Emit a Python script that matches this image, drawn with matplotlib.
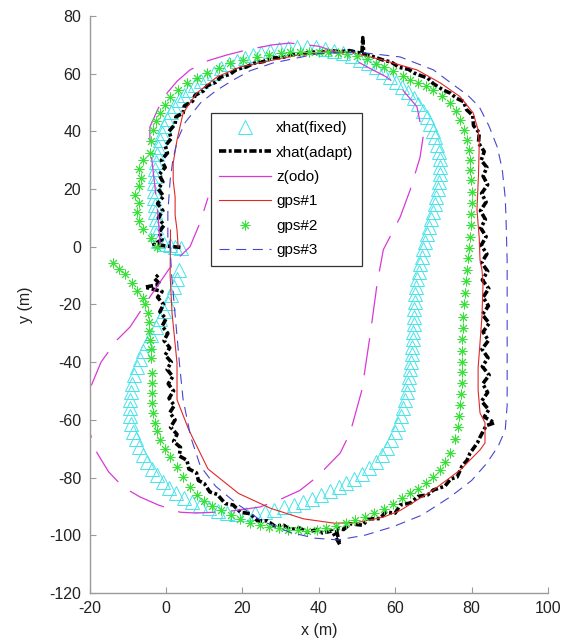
import matplotlib
matplotlib.use("Agg")
import matplotlib.pyplot as plt
from matplotlib.lines import Line2D

plt.rcParams['font.family'] = ['Liberation Sans', 'DejaVu Sans']
plt.rcParams['axes.unicode_minus'] = False

# xhat(fixed) - cyan triangles
fixed_x = [4.0, 2.5, 1.0, -0.5, -2.0, -2.5, -2.5, -2.6, -2.8, -2.9, -3.0, -3.0, -3.0, -2.9, -2.8,
           -2.6, -2.3, -2.0, -1.5, -1.0, -0.4, 0.3, 1.2, 2.2, 3.3, 4.6, 6.0, 7.5, 9.1, 10.8,
           12.6, 14.5, 16.5, 18.5, 20.6, 22.8, 25.0, 27.3, 29.6, 32.0, 34.4, 36.8, 39.2, 41.6, 44.0,
           46.3, 48.6, 50.8, 52.9, 54.9, 56.8, 58.6, 60.3, 61.9, 63.4, 64.8, 66.0, 67.2, 68.2, 69.1,
           69.9, 70.5, 71.0, 71.4, 71.6, 71.7, 71.6, 71.4, 71.1, 70.7, 70.3, 69.8, 69.3, 68.8, 68.3,
           67.8, 67.3, 66.9, 66.5, 66.1, 65.8, 65.5, 65.3, 65.1, 65.0, 64.9, 64.8, 64.7, 64.6, 64.5,
           64.3, 64.1, 63.9, 63.6, 63.3, 63.0, 62.5, 62.0, 61.5, 60.8, 60.0, 59.0, 57.8, 56.5, 55.0,
           53.2, 51.2, 49.2, 47.2, 45.2, 43.0, 40.7, 38.3, 35.9, 33.4, 30.9, 28.4, 25.9, 23.4, 20.9,
           18.4, 15.9, 13.5, 11.2, 9.0, 6.8, 4.7, 2.7, 0.9, -0.8, -2.3, -3.7, -5.0, -6.1, -7.1,
           -7.9, -8.6, -9.1, -9.4, -9.5, -9.4, -9.2, -8.8, -8.3, -7.6, -6.8, -5.9, -4.9, -3.8, -2.7,
           -1.6, -0.5, 0.5, 1.4, 2.2, 2.9, 3.4]
fixed_y = [-0.5, 0.0, 0.5, 1.0, 2.0, 4.5, 7.0, 9.5, 12.0, 14.5, 17.0, 19.5, 22.0, 24.5, 27.0,
           29.5, 32.0, 34.5, 37.0, 39.5, 42.0, 44.3, 46.6, 48.7, 50.7, 52.6, 54.4, 56.1, 57.6, 59.0,
           60.4, 61.8, 63.2, 64.4, 65.5, 66.5, 67.3, 68.0, 68.6, 69.0, 69.2, 69.3, 69.1, 68.7, 67.9,
           67.0, 66.0, 64.9, 63.6, 62.2, 60.6, 59.0, 57.2, 55.4, 53.5, 51.5, 49.4, 47.2, 45.0, 42.7,
           40.3, 37.9, 35.4, 32.9, 30.3, 27.7, 25.1, 22.5, 19.9, 17.3, 14.7, 12.1, 9.5, 6.9, 4.3,
           1.7, -0.9, -3.5, -6.1, -8.7, -11.3, -13.9, -16.5, -19.1, -21.7, -24.3, -26.9, -29.5, -32.1, -34.7,
           -37.3, -39.9, -42.5, -45.1, -47.7, -50.3, -53.0, -55.8, -58.6, -61.4, -64.2, -67.0, -69.7, -72.2, -74.6,
           -76.8, -78.8, -80.5, -82.0, -83.4, -84.8, -86.1, -87.3, -88.4, -89.4, -90.3, -91.1, -91.8, -92.3, -92.6,
           -92.6, -92.2, -91.5, -90.6, -89.6, -88.4, -87.0, -85.4, -83.5, -81.4, -79.2, -76.9, -74.5, -72.0, -69.4,
           -66.8, -64.1, -61.4, -58.6, -55.8, -53.0, -50.2, -47.4, -44.6, -41.8, -39.0, -36.2, -33.4, -30.6, -27.8,
           -25.0, -22.2, -19.4, -16.6, -13.8, -11.0, -8.2]

# xhat(adapt) - black dash-dot
adapt_x = [3.8, 0.5, -3.2, -1.0, -1.8, -0.5, -2.0, -0.8, -2.2, -0.6, -2.0, -0.8, -1.8, -0.2, -1.2,
           0.4, -0.2, 1.4, 0.8, 2.4, 2.6, 4.5, 4.8, 7.0, 7.6, 9.8, 10.8, 13.0, 14.3, 16.8,
           18.5, 21.0, 23.0, 25.5, 27.8, 30.5, 32.8, 35.4, 38.0, 40.5, 43.0, 45.5, 48.0, 50.3, 51.3,
           51.5, 51.8, 54.0, 56.9, 59.0, 61.0, 63.5, 65.0, 66.5, 68.5, 70.0, 72.6, 74.5, 76.0, 77.9,
           78.7, 80.3, 80.5, 82.0, 81.8, 83.3, 82.5, 84.0, 83.0, 84.2, 82.6, 83.8, 82.3, 83.6, 82.4,
           83.8, 82.5, 84.0, 82.6, 84.2, 82.8, 84.5, 83.0, 84.4, 82.8, 84.6, 83.0, 84.4, 82.7, 84.3,
           82.8, 84.6, 82.9, 84.2, 82.6, 84.5, 83.3, 86.0, 83.8, 82.2, 81.5, 79.6, 78.8, 77.5, 76.2,
           74.5, 73.0, 70.0, 68.5, 66.0, 64.0, 61.3, 60.0, 57.5, 56.0, 53.0, 51.5, 48.2, 46.5, 44.5,
           45.5, 43.5, 41.0, 39.5, 37.0, 35.0, 32.5, 30.8, 28.5, 26.5, 24.0, 22.0, 19.5, 17.6, 15.5,
           13.4, 11.5, 10.0, 8.5, 8.0, 6.0, 5.5, 3.5, 3.8, 2.0, 2.9, 1.2, 2.4, 1.0, 2.2,
           0.8, 2.0, 0.6, 1.8, 0.3, 1.4, -0.2, 1.0, -0.5, 0.5, -1.0, 0.0, -1.6, -0.6, -2.2,
           -1.0, -5.5, -1.5, -3.0, -1.8]
adapt_y = [-0.2, 0.2, 0.8, 2.5, 5.0, 7.5, 10.0, 12.5, 15.0, 17.5, 20.0, 22.5, 25.0, 27.5, 30.0,
           32.5, 35.0, 37.5, 40.0, 42.5, 45.0, 46.4, 48.8, 50.5, 52.5, 54.0, 55.8, 57.0, 58.8, 59.8,
           61.5, 62.3, 63.6, 64.2, 65.4, 65.6, 66.6, 66.7, 67.5, 67.4, 68.0, 67.6, 68.0, 67.3, 67.0,
           72.5, 66.8, 66.0, 64.7, 64.0, 62.2, 61.5, 60.2, 59.4, 58.5, 56.5, 54.3, 53.2, 51.5, 50.3,
           47.5, 45.5, 42.0, 39.5, 36.0, 33.0, 30.0, 27.5, 24.5, 21.5, 18.5, 15.5, 12.5, 9.5, 6.5,
           3.5, 0.5, -2.5, -5.5, -8.5, -11.5, -14.5, -17.5, -20.5, -23.5, -26.5, -29.5, -32.5, -35.5, -38.5,
           -41.5, -44.5, -47.5, -50.5, -53.5, -56.5, -59.0, -61.0, -62.0, -66.0, -68.0, -71.5, -74.0, -76.0, -79.8,
           -80.5, -83.0, -84.3, -86.0, -86.5, -88.8, -89.5, -92.3, -92.0, -94.2, -94.3, -96.5, -96.0, -98.0, -97.5,
           -103.2, -98.5, -99.2, -98.0, -98.9, -97.5, -98.0, -96.5, -96.8, -95.0, -95.0, -92.5, -92.0, -89.5, -89.0,
           -85.8, -85.0, -82.0, -81.0, -78.4, -77.0, -74.0, -72.5, -69.5, -67.5, -65.0, -62.5, -60.0, -57.5, -55.0,
           -52.5, -50.0, -47.5, -45.0, -42.5, -40.0, -37.5, -35.0, -32.5, -30.0, -27.5, -25.0, -22.5, -20.0, -17.5,
           -15.5, -14.0, -13.0, -11.0, -9.5]

# z(odo) - magenta
odo_x = [-1.5, -2.0, -2.8, -3.5, -4.2, -4.2, -2.0, 0.3, 3.0, 6.3, 11.0, 16.0, 22.0, 28.0, 32.5,
         40.0, 47.0, 52.7, 57.5, 61.3, 65.7, 67.3, 66.5, 64.0, 61.3, 56.9, 55.3, 53.4, 51.3, 48.2,
         45.6, 39.5, 35.0, 30.0, 24.6, 16.0, 8.0, 3.7, -2.0, -6.8, -11.2, -15.0, -18.0, -19.9, -20.2,
         -19.5, -17.0, -12.8, -9.4, -4.0, 1.9, 6.3, 9.0, 11.0]
odo_y = [0.0, 10.0, 20.0, 28.0, 36.0, 41.5, 48.0, 53.3, 57.5, 61.3, 64.5, 66.5, 68.5, 70.0, 70.6,
         69.5, 66.5, 62.3, 59.0, 55.4, 48.5, 38.0, 31.0, 20.0, 10.3, -1.0, -12.5, -31.0, -49.6, -64.5,
         -71.5, -79.8, -84.5, -87.5, -90.2, -91.8, -92.3, -92.0, -89.5, -86.7, -83.3, -78.0, -71.5, -64.5, -57.0,
         -48.0, -40.0, -32.3, -27.8, -17.0, -5.6, 0.0, 8.6, 17.0]

# gps#1 - red
gps1_x = [3.2, 2.9, 2.4, 2.4, 1.9, 1.9, 2.9, 4.5, 8.1, 13.4, 19.4, 28.0, 34.0, 41.2, 48.2,
          56.9, 65.7, 71.8, 77.0, 80.4, 81.7, 82.0, 81.8, 81.4, 82.0, 82.2, 82.7, 83.0, 82.7, 82.2,
          81.7, 81.7, 82.2, 83.5, 83.5, 82.2, 77.0, 70.0, 61.3, 56.9, 50.0, 44.0, 36.0, 27.5, 19.0,
          11.0, 6.0, 2.9, 2.9, 1.6, 1.1, 1.2]
gps1_y = [-0.1, 5.8, 11.0, 17.3, 23.0, 29.0, 37.0, 46.4, 53.3, 58.9, 62.3, 64.7, 66.3, 67.6, 67.4,
          64.7, 61.3, 56.8, 52.0, 46.4, 40.5, 36.0, 25.0, 12.8, 3.0, -4.6, -8.0, -12.5, -24.3, -33.3,
          -42.0, -49.6, -57.6, -61.0, -68.0, -70.4, -77.4, -84.3, -91.4, -93.7, -95.6, -95.8, -94.3, -90.7, -85.5,
          -77.0, -63.5, -53.0, -40.3, -23.0, -10.0, 5.8]

# gps#2 - green stars
gps2_x = [-2.3, -4.0, -6.0, -7.0, -7.5, -7.0, -8.0, -7.0, -6.5, -7.0, -6.0, -4.2, -3.8, -3.4, -2.6,
          -1.5, -0.3, 1.1, 3.2, 5.5, 8.0, 10.8, 13.8, 16.8, 20.2, 23.8, 27.0, 30.0, 32.5, 35.0,
          37.5, 40.0, 42.5, 45.0, 47.5, 50.0, 52.5, 55.0, 57.0, 59.5, 62.0, 64.0, 66.0, 68.0, 70.0,
          72.3, 74.4, 75.8, 77.0, 78.0, 78.8, 79.2, 79.5, 79.6, 79.8, 80.0, 80.0, 79.9, 79.8, 79.6,
          79.4, 79.1, 78.8, 78.5, 78.2, 78.0, 77.8, 77.7, 77.6, 77.6, 77.5, 77.5, 77.5, 77.3, 77.0,
          76.8, 76.5, 75.6, 74.4, 73.0, 71.6, 70.0, 68.0, 66.0, 64.0, 61.8, 59.5, 57.0, 54.5, 52.0,
          49.5, 47.0, 44.5, 42.0, 39.5, 37.0, 34.5, 32.0, 29.5, 27.0, 24.5, 22.0, 19.5, 17.0, 14.5,
          12.0, 10.0, 8.0, 6.2, 4.5, 2.8, 1.1, -0.3, -1.5, -2.3, -2.9, -3.3, -3.6, -3.6, -3.6,
          -3.6, -3.9, -4.0, -4.2, -4.4, -4.5, -4.7, -5.5, -6.0, -7.6, -8.8, -10.7, -12.2, -13.8]
gps2_y = [0.0, 3.0, 6.0, 9.0, 12.0, 15.0, 18.0, 21.0, 24.0, 27.0, 30.0, 32.5, 36.5, 40.5, 43.5,
          46.4, 49.3, 52.0, 54.5, 56.8, 58.6, 60.2, 62.0, 63.7, 64.8, 65.8, 66.6, 67.2, 67.5, 67.6,
          67.6, 67.6, 67.5, 67.3, 66.8, 66.0, 65.0, 63.5, 62.2, 60.8, 59.2, 57.8, 56.8, 55.6, 54.3,
          52.2, 49.8, 47.0, 44.0, 40.5, 37.0, 33.5, 30.0, 26.6, 23.0, 19.0, 15.2, 11.5, 7.5, 3.4,
          -0.5, -4.0, -8.0, -12.0, -16.0, -20.0, -24.3, -28.0, -32.0, -36.0, -40.0, -43.5, -47.2, -51.0, -55.0,
          -58.8, -62.5, -66.5, -71.5, -74.5, -77.2, -79.8, -82.0, -83.8, -85.3, -87.2, -89.0, -90.8, -92.2, -93.5,
          -94.6, -95.6, -96.7, -97.6, -98.2, -98.4, -98.3, -98.0, -97.6, -97.2, -96.6, -95.6, -94.4, -93.0, -91.4,
          -89.7, -88.0, -86.0, -83.2, -79.8, -76.3, -72.9, -70.0, -67.0, -64.0, -61.1, -57.6, -54.2, -50.7, -47.2,
          -43.7, -38.5, -35.3, -32.3, -29.2, -26.1, -23.0, -20.0, -17.7, -15.3, -12.5, -9.5, -7.6, -5.6]

# gps#3 - blue dashed
gps3_x = [1.0, 1.5, 2.5, 3.5, 4.5, 6.5, 9.0, 13.0, 18.5, 25.0, 32.5, 39.0, 45.0, 52.0, 59.5,
          67.0, 74.4, 80.0, 84.0, 87.0, 88.8, 89.3, 89.3, 89.3, 89.3, 89.0, 88.8, 88.0, 86.7, 84.5,
          82.0, 79.0, 76.0, 70.0, 61.3, 50.0, 40.0, 28.0, 22.0, 17.6, 13.0, 9.0, 5.0, 3.0, 1.8,
          1.1, 0.5, 0.5]
gps3_y = [2.0, -10.0, -25.0, -40.0, -53.0, -66.0, -76.0, -83.0, -89.0, -95.0, -99.0, -101.0, -101.6, -100.0, -97.0,
          -93.0, -86.7, -81.0, -75.0, -69.0, -63.5, -55.0, -40.0, -20.0, -5.0, 10.0, 17.0, 27.0, 34.6, 42.0,
          48.5, 52.5, 55.4, 61.3, 65.8, 67.5, 67.0, 63.7, 61.0, 57.8, 54.0, 49.8, 43.0, 37.0, 30.0,
          23.0, 12.0, 2.0]

fig = plt.figure(figsize=(5.72, 6.41), dpi=100)
ax = fig.add_axes([0.1565, 0.0749, 0.8016, 0.9002])

c_cyan = '#44e4ea'
c_black = 'black'
c_mag = '#d838d8'
c_red = '#e02828'
c_green = '#3ae03a'
c_blue = '#4646cc'

tri = dict(ls='none', marker='^', ms=10, mfc='none', mec=c_cyan, mew=0.7)
star = dict(ls='none', marker=(8, 2, 0), ms=7, mec=c_green, mew=0.7)
dashdot = dict(color=c_black, lw=2.6, dashes=(2.0, 0.7, 0.8, 0.7), dash_capstyle='butt')

ax.plot(fixed_x, fixed_y, **tri)
ax.plot(adapt_x, adapt_y, **dashdot)
ax.plot(odo_x, odo_y, color=c_mag, lw=0.9, dashes=(30, 12))
ax.plot(gps1_x, gps1_y, color=c_red, lw=0.8)
ax.plot(gps2_x, gps2_y, **star)
ax.plot(gps3_x, gps3_y, color=c_blue, lw=0.8, dashes=(9, 6))

handles = [
    Line2D([], [], **tri),
    Line2D([], [], **dashdot),
    Line2D([], [], color=c_mag, lw=0.9),
    Line2D([], [], color=c_red, lw=0.8),
    Line2D([], [], **star),
    Line2D([], [], color=c_blue, lw=0.8, dashes=(9, 6)),
]
labels = ['xhat(fixed)', 'xhat(adapt)', 'z(odo)', 'gps#1', 'gps#2', 'gps#3']
leg = ax.legend(handles, labels, loc='upper left', bbox_to_anchor=(0.265, 0.832),
                fontsize=11, handlelength=3.4, handletextpad=0.3, labelspacing=0.68,
                borderpad=0.55, borderaxespad=0, fancybox=False, framealpha=1)
leg.get_frame().set_edgecolor('#333333')
leg.get_frame().set_linewidth(0.9)

ax.set_xlim(-20, 100)
ax.set_ylim(-120, 80)
ax.set_xticks(range(-20, 101, 20))
ax.set_yticks(range(-120, 81, 20))
for s in ['top', 'right']:
    ax.spines[s].set_visible(False)
for s in ['left', 'bottom']:
    ax.spines[s].set_color('#9a9a9a')
    ax.spines[s].set_linewidth(1.0)
ax.tick_params(direction='in', length=4, color='#9a9a9a', labelsize=11.5, labelcolor='#222222', pad=6)
ax.set_xlabel('x (m)', fontsize=11.5, color='#222222', labelpad=5)
ax.set_ylabel('y (m)', fontsize=11.5, color='#222222', labelpad=12)

fig.savefig('out.png', dpi=100)
